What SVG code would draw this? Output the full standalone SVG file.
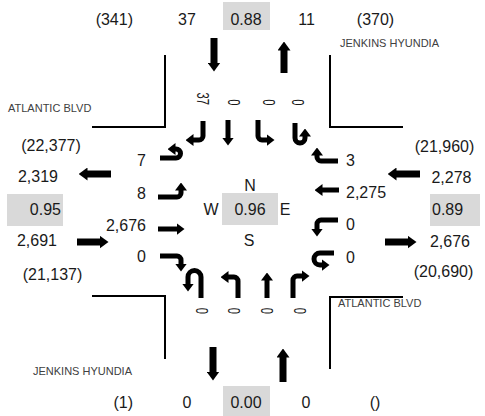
<svg xmlns="http://www.w3.org/2000/svg" width="485" height="416" viewBox="0 0 485 416">
  <defs>
    <!-- arrowheads: large for approach/departure arrows, small for lane arrows -->
    <marker id="hb" markerUnits="userSpaceOnUse" viewBox="0 0 9 13" markerWidth="9" markerHeight="13" refX="0.5" refY="6.5" orient="auto">
      <path d="M0,0 L9,6.5 L0,13 Z" fill="#000"/>
    </marker>
    <marker id="hs" markerUnits="userSpaceOnUse" viewBox="0 0 8 12" markerWidth="8" markerHeight="12" refX="0.5" refY="6" orient="auto">
      <path d="M0,0 L8,6 L0,12 Z" fill="#000"/>
    </marker>
    <style>
      .road { fill: none; stroke: #000; stroke-width: 2; }
      .big { fill: none; stroke: #000; stroke-width: 7; marker-end: url(#hb); }
      .lane { fill: none; stroke: #000; stroke-width: 5; marker-end: url(#hs); }
      .box { fill: #d9d9d9; }
      .v { font-family: "Liberation Sans", Arial, sans-serif; font-size: 16px; fill: #1a1a1a; }
      .r { text-anchor: end; }
      .c { text-anchor: middle; }
      .e { text-anchor: end; }
      .st { font-family: "Liberation Sans", Arial, sans-serif; font-size: 11px; fill: #404040; }
    </style>
  </defs>

  <!-- curb lines of the four corners -->
  <g id="roads">
    <path class="road" d="M165,55 V127 H92"/>
    <path class="road" d="M330,55 V127 H403"/>
    <path class="road" d="M92,296 H165 V359"/>
    <path class="road" d="M403,297 H330 V369"/>
  </g>

  <!-- street names -->
  <g id="street-names">
    <text class="st" x="8" y="112">ATLANTIC BLVD</text>
    <text class="st" x="340" y="47">JENKINS HYUNDIA</text>
    <text class="st" x="338" y="307">ATLANTIC BLVD</text>
    <text class="st" x="33" y="375">JENKINS HYUNDIA</text>
  </g>

  <!-- north leg: approach/departure volumes -->
  <g id="north-leg">
    <rect class="box" x="223" y="2" width="47" height="28"/>
    <text class="v e" x="133" y="25">(341)</text>
    <text class="v c" x="187" y="25">37</text>
    <text class="v c" x="246" y="25">0.88</text>
    <text class="v c" x="306.5" y="25">11</text>
    <text class="v c" x="375.5" y="25">(370)</text>
  </g>

  <!-- south leg -->
  <g id="south-leg">
    <rect class="box" x="223" y="386" width="47" height="30"/>
    <text class="v e" x="133" y="408">(1)</text>
    <text class="v c" x="187" y="408">0</text>
    <text class="v c" x="246" y="408">0.00</text>
    <text class="v c" x="306" y="408">0</text>
    <text class="v c" x="375" y="408">()</text>
  </g>

  <!-- west leg -->
  <g id="west-leg">
    <rect class="box" x="7" y="194" width="56" height="32"/>
    <text class="v c" x="51" y="151">(22,377)</text>
    <text class="v c" x="38" y="182">2,319</text>
    <text class="v e" x="61" y="215">0.95</text>
    <text class="v c" x="37" y="246">2,691</text>
    <text class="v c" x="52.5" y="280">(21,137)</text>
  </g>

  <!-- east leg -->
  <g id="east-leg">
    <rect class="box" x="430" y="194" width="50" height="32"/>
    <text class="v c" x="444.5" y="152">(21,960)</text>
    <text class="v c" x="451.5" y="183">2,278</text>
    <text class="v" x="432" y="215">0.89</text>
    <text class="v c" x="450" y="247">2,676</text>
    <text class="v c" x="443.5" y="277">(20,690)</text>
  </g>

  <!-- intersection centre -->
  <g id="centre">
    <rect class="box" x="222" y="193" width="56" height="32"/>
    <text class="v c" x="250" y="191">N</text>
    <text class="v c" x="211" y="215">W</text>
    <text class="v c" x="250" y="215">0.96</text>
    <text class="v c" x="285" y="215">E</text>
    <text class="v c" x="249" y="246">S</text>
  </g>

  <!-- turning-movement counts -->
  <g id="movement-counts">
    <text class="v r" transform="translate(203,105) rotate(90) scale(0.7,1)" y="5.7">37</text>
    <text class="v r" transform="translate(234,105.5) rotate(90) scale(0.7,1)" y="5.7">0</text>
    <text class="v r" transform="translate(268.5,105.5) rotate(90) scale(0.7,1)" y="5.7">0</text>
    <text class="v r" transform="translate(298,105.5) rotate(90) scale(0.7,1)" y="5.7">0</text>
    <text class="v r" transform="translate(202,314) rotate(90) scale(0.7,1)" y="5.7">0</text>
    <text class="v r" transform="translate(234,314) rotate(90) scale(0.7,1)" y="5.7">0</text>
    <text class="v r" transform="translate(267,314) rotate(90) scale(0.7,1)" y="5.7">0</text>
    <text class="v r" transform="translate(300,314) rotate(90) scale(0.7,1)" y="5.7">0</text>
    <text class="v e" x="146" y="166">7</text>
    <text class="v e" x="146" y="199">8</text>
    <text class="v e" x="146" y="231">2,676</text>
    <text class="v e" x="146" y="262">0</text>
    <text class="v" x="346" y="166">3</text>
    <text class="v" x="346" y="198">2,275</text>
    <text class="v" x="346" y="230">0</text>
    <text class="v" x="346" y="263">0</text>
  </g>

  <!-- approach and departure arrows -->
  <g id="leg-arrows">
    <path class="big" d="M214,38 V63"/>
    <path class="big" d="M284,73 V50"/>
    <path class="big" d="M111,174 H87"/>
    <path class="big" d="M77,242 H100"/>
    <path class="big" d="M420,174 H396"/>
    <path class="big" d="M385,242 H408"/>
    <path class="big" d="M213,347 V372"/>
    <path class="big" d="M283,382 V357"/>
  </g>

  <!-- lane arrows -->
  <g id="lanes-sb">
    <path class="lane" d="M203,121 V136 A4,4 0 0 1 199,140 H193"/>
    <path class="lane" d="M228,120 V138"/>
    <path class="lane" d="M258,120 V136 A4,4 0 0 0 262,140 H267"/>
    <path class="lane" d="M295,123 V138 A5,5 0 0 0 305,138 V136"/>
  </g>
  <g id="lanes-eb">
    <path class="lane" d="M160,158 H176 A4.5,4.5 0 0 0 176,149 H175"/>
    <path class="lane" d="M158,197 H177 A4,4 0 0 0 181,193 V190"/>
    <path class="lane" d="M158,229 H177"/>
    <path class="lane" d="M160,256 H177 A4,4 0 0 1 181,260 V264"/>
  </g>
  <g id="lanes-wb">
    <path class="lane" d="M338,161 H321 A4,4 0 0 1 317,157 V155"/>
    <path class="lane" d="M339,190 H322"/>
    <path class="lane" d="M338,220 H321 A4,4 0 0 0 317,224 V229"/>
    <path class="lane" d="M334,253 H320 A6,6 0 0 0 320,265 H322"/>
  </g>
  <g id="lanes-nb">
    <path class="lane" d="M201,298 V277 A6.5,6.5 0 0 0 188,277 V284"/>
    <path class="lane" d="M238,298 V281 A4,4 0 0 0 234,277 H228"/>
    <path class="lane" d="M267,298 V280"/>
    <path class="lane" d="M293,298 V280 A4,4 0 0 1 297,276 H302"/>
  </g>
</svg>
